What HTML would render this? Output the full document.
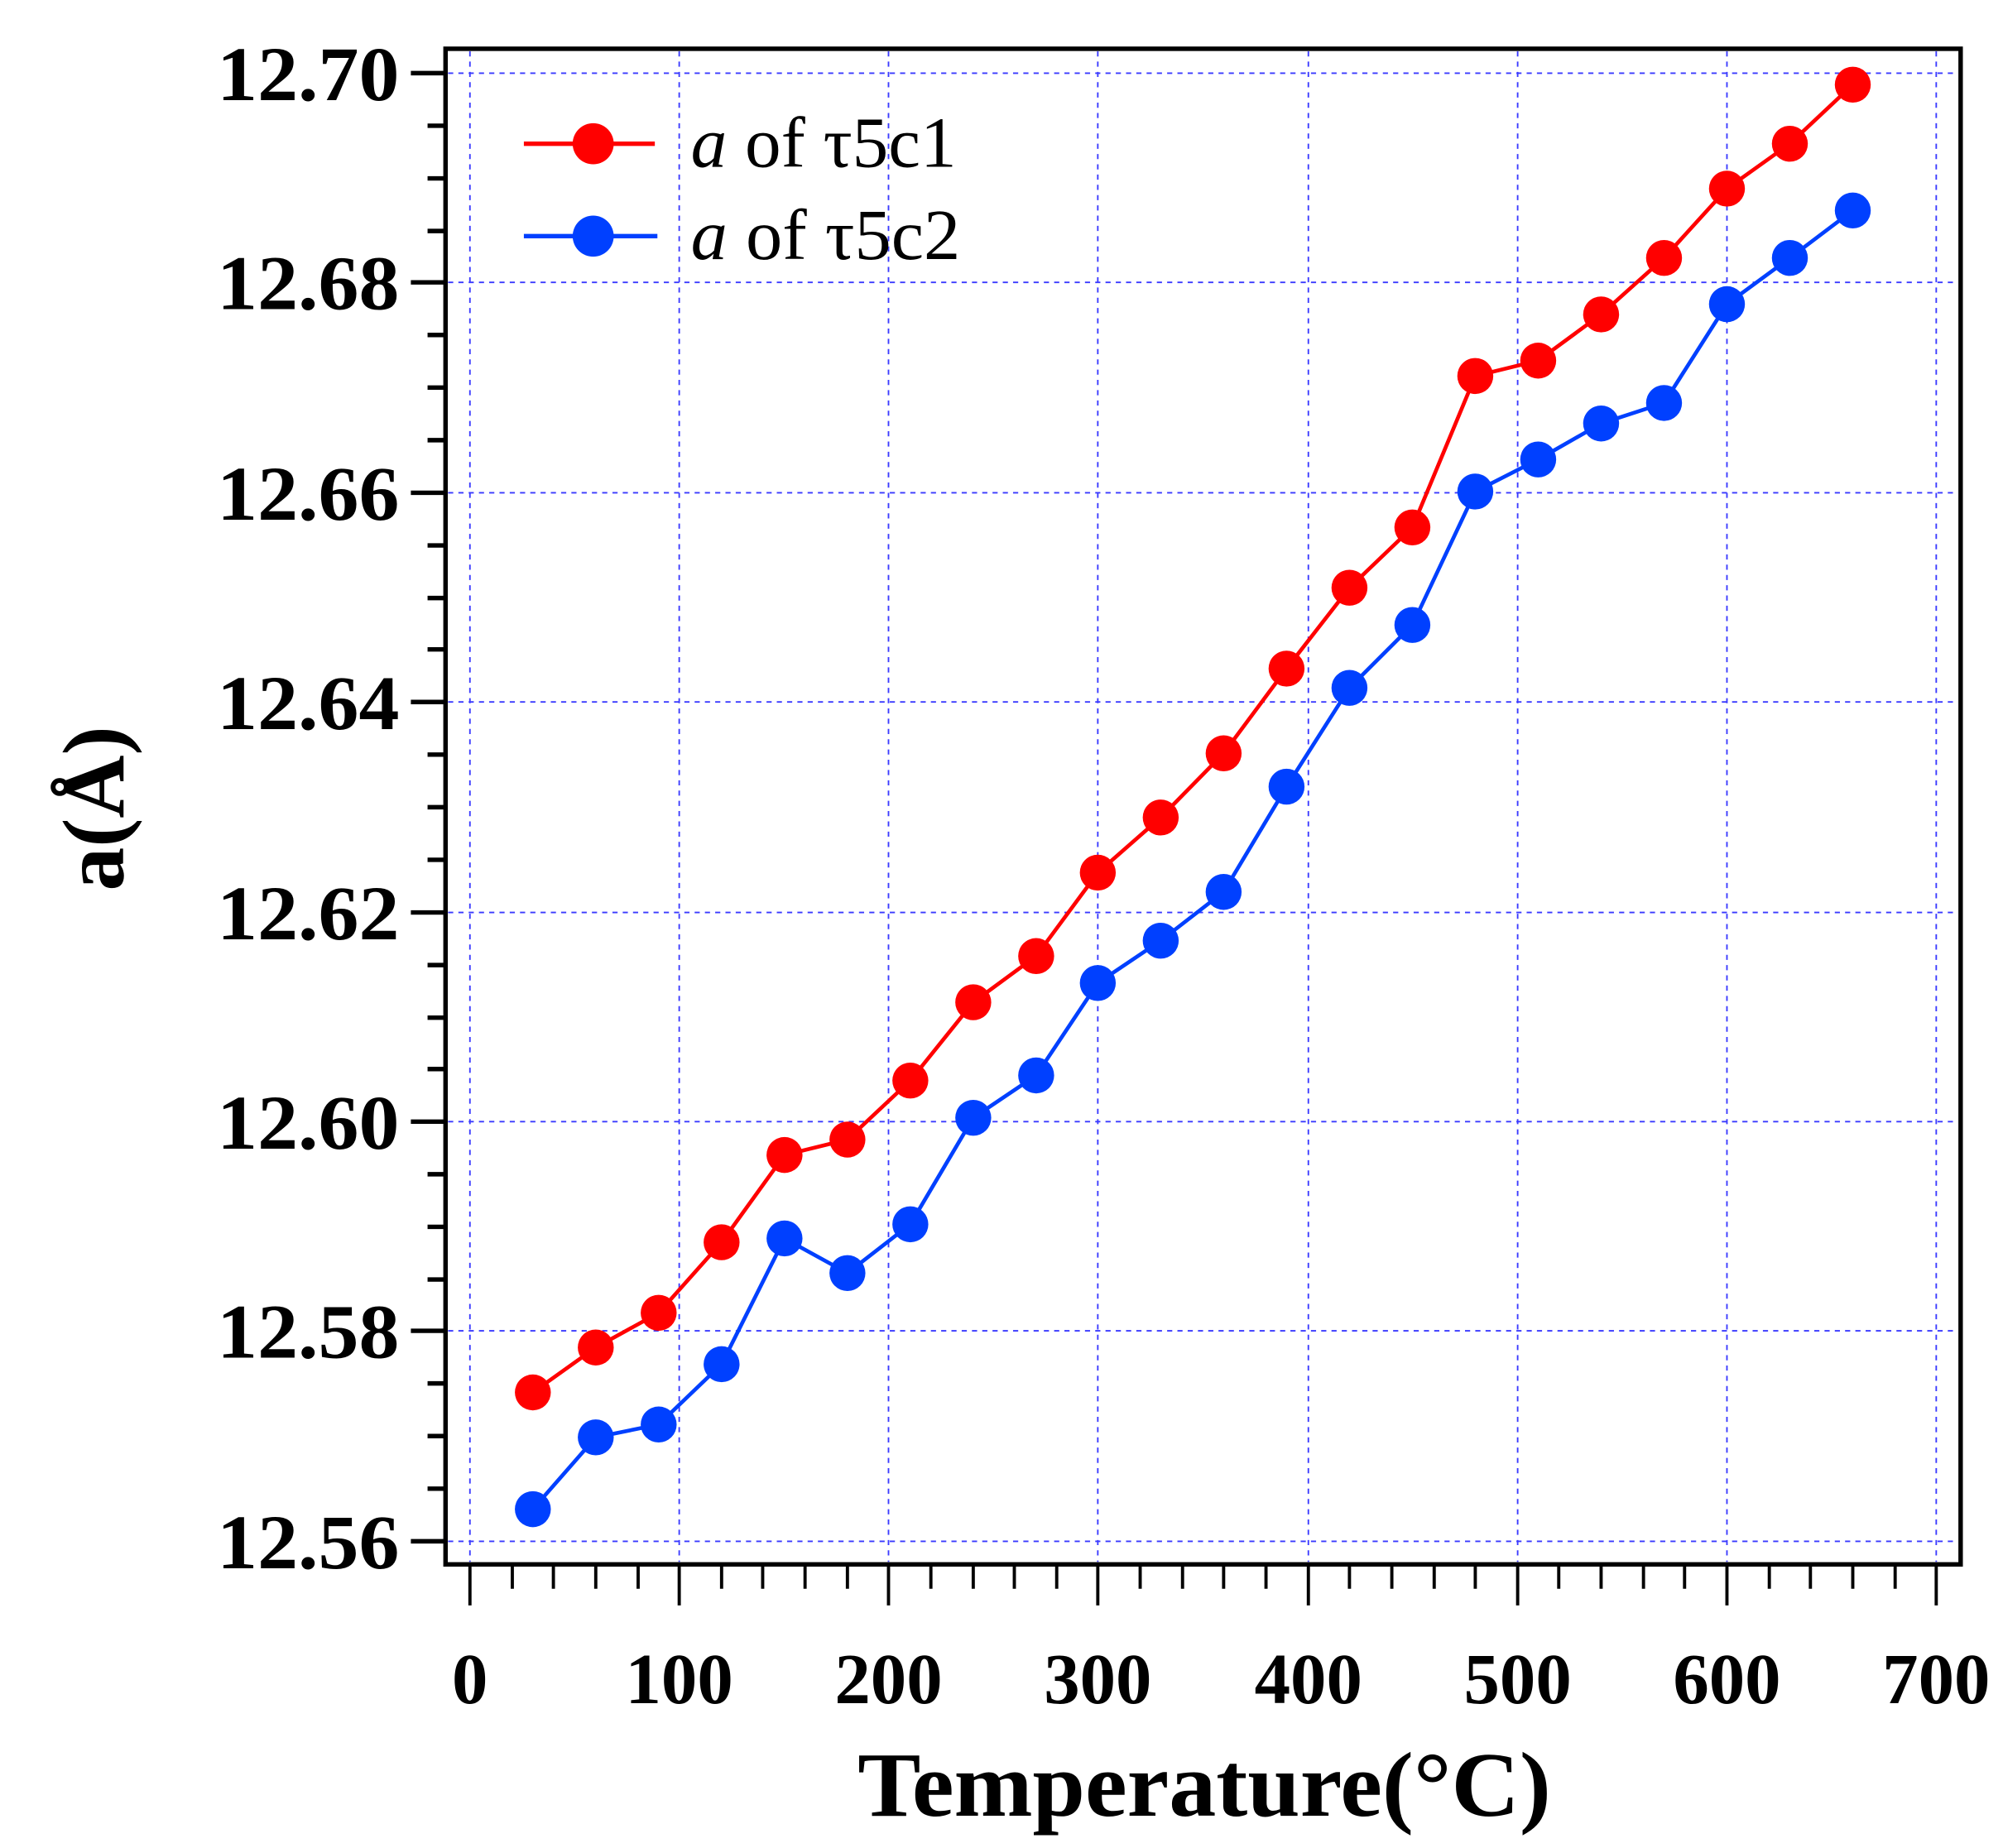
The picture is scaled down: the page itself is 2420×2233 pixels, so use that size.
<!DOCTYPE html>
<html><head><meta charset="utf-8"><style>html,body{margin:0;padding:0;background:#fff}svg{display:block}</style></head>
<body>
<svg width="2420" height="2233" viewBox="0 0 1560 1440" preserveAspectRatio="none" xmlns="http://www.w3.org/2000/svg" font-family="Liberation Serif, serif">
<rect width="1560" height="1440" fill="#fff"/>
<g stroke="#3a3aff" stroke-width="1.2" stroke-dasharray="4,4">
<line x1="366" y1="40" x2="366" y2="1217"/><line x1="529" y1="40" x2="529" y2="1217"/><line x1="692" y1="40" x2="692" y2="1217"/><line x1="855" y1="40" x2="855" y2="1217"/><line x1="1019" y1="40" x2="1019" y2="1217"/><line x1="1182" y1="40" x2="1182" y2="1217"/><line x1="1345" y1="40" x2="1345" y2="1217"/><line x1="1508" y1="40" x2="1508" y2="1217"/>
<line x1="349" y1="57" x2="1525" y2="57"/><line x1="349" y1="220" x2="1525" y2="220"/><line x1="349" y1="384" x2="1525" y2="384"/><line x1="349" y1="547" x2="1525" y2="547"/><line x1="349" y1="711" x2="1525" y2="711"/><line x1="349" y1="874" x2="1525" y2="874"/><line x1="349" y1="1037" x2="1525" y2="1037"/><line x1="349" y1="1201" x2="1525" y2="1201"/>
</g>
<rect x="347" y="38" width="1180" height="1181" fill="none" stroke="#000" stroke-width="3.5"/>
<g stroke="#000" stroke-width="3.5">
<path d="M320 57H347M320 220H347M320 384H347M320 547H347M320 711H347M320 874H347M320 1037H347M320 1201H347"/>
<path d="M333 98H347M333 139H347M333 180H347M333 261H347M333 302H347M333 343H347M333 425H347M333 466H347M333 506H347M333 588H347M333 629H347M333 670H347M333 752H347M333 793H347M333 833H347M333 915H347M333 956H347M333 997H347M333 1078H347M333 1119H347M333 1160H347"/>
</g>
<path stroke="#000" stroke-width="2.5" d="M366 1219V1251M529 1219V1251M692 1219V1251M855 1219V1251M1019 1219V1251M1182 1219V1251M1345 1219V1251M1508 1219V1251
M399 1219V1238M431 1219V1238M464 1219V1238M497 1219V1238M562 1219V1238M594 1219V1238M627 1219V1238M660 1219V1238M725 1219V1238M758 1219V1238M790 1219V1238M823 1219V1238M888 1219V1238M921 1219V1238M953 1219V1238M986 1219V1238M1051 1219V1238M1084 1219V1238M1117 1219V1238M1149 1219V1238M1214 1219V1238M1247 1219V1238M1280 1219V1238M1312 1219V1238M1378 1219V1238M1410 1219V1238M1443 1219V1238M1476 1219V1238"/>
<g font-weight="bold" font-size="60" text-anchor="end" fill="#000">
<text x="311" y="78" textLength="142" lengthAdjust="spacingAndGlyphs">12.70</text><text x="311" y="241" textLength="142" lengthAdjust="spacingAndGlyphs">12.68</text><text x="311" y="405" textLength="142" lengthAdjust="spacingAndGlyphs">12.66</text><text x="311" y="568" textLength="142" lengthAdjust="spacingAndGlyphs">12.64</text><text x="311" y="732" textLength="142" lengthAdjust="spacingAndGlyphs">12.62</text><text x="311" y="895" textLength="142" lengthAdjust="spacingAndGlyphs">12.60</text><text x="311" y="1058" textLength="142" lengthAdjust="spacingAndGlyphs">12.58</text><text x="311" y="1222" textLength="142" lengthAdjust="spacingAndGlyphs">12.56</text>
</g>
<g font-weight="bold" font-size="56" text-anchor="middle" fill="#000">
<text x="366" y="1327">0</text><text x="529" y="1327">100</text><text x="692" y="1327">200</text><text x="855" y="1327">300</text><text x="1019" y="1327">400</text><text x="1182" y="1327">500</text><text x="1345" y="1327">600</text><text x="1508" y="1327">700</text>
</g>
<text x="938" y="1415" font-weight="bold" font-size="72" text-anchor="middle" textLength="540" lengthAdjust="spacingAndGlyphs">Temperature(°C)</text>
<text transform="translate(96,630) rotate(-90)" font-weight="bold" font-size="68" text-anchor="middle">a(Å)</text>
<polyline fill="none" stroke="#ff0000" stroke-width="3" points="415,1085 464,1050 513,1023 562,968 611,900 660,888 709,842 758,781 807,745 855,680 904,637 953,587 1002,521 1051,458 1100,411 1149,293 1198,281 1247,245 1296,201 1345,147 1394,112 1443,66"/>
<g fill="#ff0000"><circle cx="415" cy="1085" r="14"/><circle cx="464" cy="1050" r="14"/><circle cx="513" cy="1023" r="14"/><circle cx="562" cy="968" r="14"/><circle cx="611" cy="900" r="14"/><circle cx="660" cy="888" r="14"/><circle cx="709" cy="842" r="14"/><circle cx="758" cy="781" r="14"/><circle cx="807" cy="745" r="14"/><circle cx="855" cy="680" r="14"/><circle cx="904" cy="637" r="14"/><circle cx="953" cy="587" r="14"/><circle cx="1002" cy="521" r="14"/><circle cx="1051" cy="458" r="14"/><circle cx="1100" cy="411" r="14"/><circle cx="1149" cy="293" r="14"/><circle cx="1198" cy="281" r="14"/><circle cx="1247" cy="245" r="14"/><circle cx="1296" cy="201" r="14"/><circle cx="1345" cy="147" r="14"/><circle cx="1394" cy="112" r="14"/><circle cx="1443" cy="66" r="14"/></g>
<polyline fill="none" stroke="#0040ff" stroke-width="3" points="415,1176 464,1120 513,1110 562,1063 611,965 660,992 709,954 758,871 807,838 855,766 904,733 953,695 1002,613 1051,536 1100,487 1149,383 1198,358 1247,330 1296,314 1345,237 1394,201 1443,164"/>
<g fill="#0040ff"><circle cx="415" cy="1176" r="14"/><circle cx="464" cy="1120" r="14"/><circle cx="513" cy="1110" r="14"/><circle cx="562" cy="1063" r="14"/><circle cx="611" cy="965" r="14"/><circle cx="660" cy="992" r="14"/><circle cx="709" cy="954" r="14"/><circle cx="758" cy="871" r="14"/><circle cx="807" cy="838" r="14"/><circle cx="855" cy="766" r="14"/><circle cx="904" cy="733" r="14"/><circle cx="953" cy="695" r="14"/><circle cx="1002" cy="613" r="14"/><circle cx="1051" cy="536" r="14"/><circle cx="1100" cy="487" r="14"/><circle cx="1149" cy="383" r="14"/><circle cx="1198" cy="358" r="14"/><circle cx="1247" cy="330" r="14"/><circle cx="1296" cy="314" r="14"/><circle cx="1345" cy="237" r="14"/><circle cx="1394" cy="201" r="14"/><circle cx="1443" cy="164" r="14"/></g>
<line x1="408" y1="112" x2="510" y2="112" stroke="#ff0000" stroke-width="3.5"/><circle cx="462" cy="112" r="16" fill="#ff0000"/>
<line x1="408" y1="184" x2="512" y2="184" stroke="#0040ff" stroke-width="3.5"/><circle cx="462" cy="184" r="16" fill="#0040ff"/>
<g font-size="56" fill="#000">
<text x="538" y="130" textLength="207" lengthAdjust="spacingAndGlyphs"><tspan font-style="italic">a</tspan> of τ5c1</text>
<text x="538" y="202" textLength="210" lengthAdjust="spacingAndGlyphs"><tspan font-style="italic">a</tspan> of τ5c2</text>
</g>
</svg>
</body></html>
